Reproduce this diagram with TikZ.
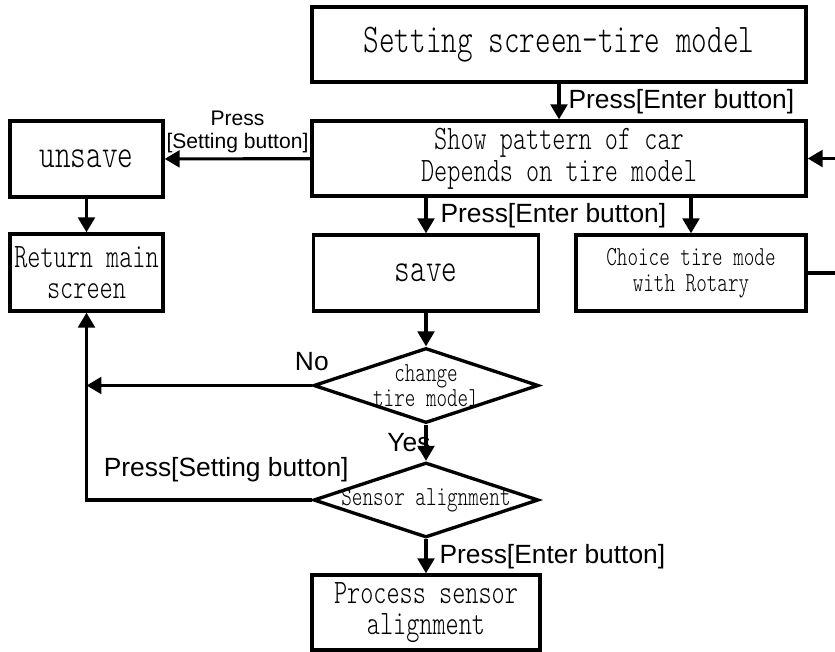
\documentclass[tikz,border=0pt]{standalone}
\usepackage{fontspec}
\usepackage{tikz}
\usetikzlibrary{arrows.meta,shapes.geometric,positioning}
\newfontfamily\labelfont{Liberation Sans}
\newfontfamily\boxfont{lmmonolt10-regular}[Extension=.otf,FakeStretch=0.73]

\begin{document}
\begin{tikzpicture}[x = 0.2mm, y = -0.2mm,
  every node/.style = {inner sep = 0pt},
  box/.style        = {draw, line width = 1.9pt, align = center},
  decision/.style   = {draw, diamond, line width = 1.9pt, aspect = 3},
  flow/.style       = {line width = 1.8pt, -{Triangle[length = 8.5pt, width = 9.5pt]}},
  bigText/.style    = {font = \boxfont\fontsize{23.2}{24}\selectfont},
  midText/.style    = {font = \boxfont\fontsize{19.5}{18}\selectfont},
  smallText/.style  = {font = \boxfont\fontsize{15.7}{14.5}\selectfont},
  pressText/.style  = {font = \labelfont\fontsize{15}{16}\selectfont},
  ]
  \useasboundingbox (0,0) rectangle (835,652);
  \clip (0,0) rectangle (835,652);

  \node [box, bigText, minimum width = 98.8mm, minimum height = 15mm] (setScreen) at (559,44.5) {Setting screen-tire model};
  \node [box, midText, minimum width = 98.8mm, minimum height = 15mm] (showPattern) at (559,158.5) {Show pattern of car\\Depends on tire model};
  \node [box, bigText, minimum width = 30.6mm, minimum height = 15.2mm] (unsave) at (86.5,159) {unsave};
  \node [box, midText, minimum width = 30.6mm, minimum height = 15.4mm] (returnMain) at (86.5,272.5) {Return main\\screen};
  \node [box, bigText, minimum width = 45mm, minimum height = 15.2mm] (save) at (426,273) {save};
  \node [box, smallText, minimum width = 46mm, minimum height = 15.2mm] (choiceTire) at (691,273) {Choice tire mode\\with Rotary};
  \node [decision, minimum width = 45mm, minimum height = 15mm,
         label = {[smallText, align = center]center:{change\\tire model}}] (changeTire) at (426,385.5) {};
  \node [decision, minimum width = 45mm, minimum height = 15mm,
         label = {[smallText]center:Sensor alignment}] (sensorAlign) at (426,500) {};
  \node [box, midText, minimum width = 45.6mm, minimum height = 15mm] (processAlign) at (426,612.5) {Process sensor\\alignment};

  \coordinate (rotaryOut) at (850,273);
  \coordinate (rotaryIn) at (850,158.5);
  \coordinate (noJoin) at (returnMain.south |- changeTire.west);
  \coordinate (settingCorner) at (returnMain.south |- sensorAlign.west);

  \draw [flow] (setScreen) -- (showPattern)
    node [pressText, midway, right = 1.6mm] (enterA) {Press[Enter button]};
  \draw [flow] (showPattern) -- (unsave)
    node [midway, above = 2.5pt, align = center, font = \labelfont\fontsize{12}{13}\selectfont] (settingA) {Press\\{[Setting button]}};
  \draw [flow] (unsave) -- (returnMain);
  \draw [flow] (save.north |- showPattern.south) -- (save)
    node [pressText, midway, right = 2.6mm] (enterB) {Press[Enter button]};
  \draw [flow] (choiceTire.north |- showPattern.south) -- (choiceTire.north);
  \draw [flow] (choiceTire.east) -- (rotaryOut) -- (rotaryIn) -- (showPattern.east);
  \draw [flow] (save) -- (changeTire);
  \draw [flow] (changeTire) -- (sensorAlign)
    node [pressText, midway, anchor = east, xshift = 1.2mm] (yesLabel) {Yes};
  \draw [flow] (sensorAlign) -- (processAlign)
    node [pressText, midway, right = 2.4mm] (enterC) {Press[Enter button]};
  \draw [flow] (changeTire.west) node [pressText, above = 2.7mm] (noLabel) {No} -- (noJoin);
  \draw [flow] (sensorAlign.west) -- (settingCorner)
    node [pressText, pos = 0.38, above = 3.3mm] (settingB) {Press[Setting button]} -- (returnMain.south);
\end{tikzpicture}
\end{document}
